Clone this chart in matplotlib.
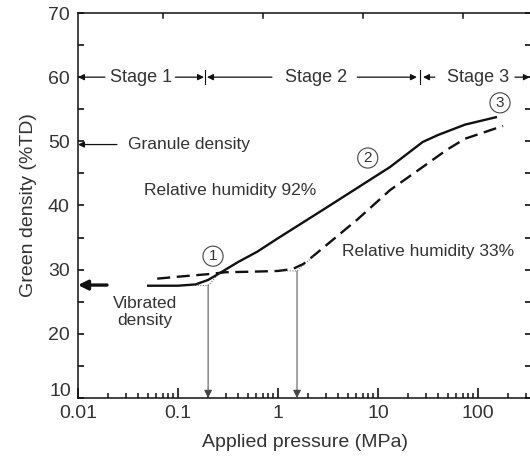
import matplotlib.pyplot as plt
from matplotlib.ticker import NullFormatter

# green density vs applied pressure
pressure_92 = [0.049, 0.1, 0.15, 0.2, 0.245, 0.4, 0.62, 1.0, 2.8, 13.2, 28, 40, 74, 155]
density_92 = [27.5, 27.5, 27.7, 28.4, 29.2, 31.2, 32.8, 34.9, 39.3, 46.0, 49.9, 51.0, 52.6, 53.8]

pressure_33 = [0.062, 0.1, 0.2, 0.3, 0.6, 1.0, 1.4, 1.8, 2.2, 3.5, 6.2, 13.2, 28, 49, 74, 178]
density_33 = [28.6, 28.9, 29.3, 29.6, 29.7, 29.8, 30.1, 30.9, 32.0, 34.6, 37.8, 42.4, 46.0, 48.7, 50.4, 52.4]

# tangent construction at the two knees (thin dotted)
tangent_1_x = [0.14, 0.2, 0.26]
tangent_1_y = [27.55, 27.55, 29.4]
tangent_2_x = [1.1, 1.55, 2.3]
tangent_2_y = [29.8, 29.8, 32.2]

knee_pressures = [0.2, 1.55]
knee_densities = [27.6, 29.8]
stage_bounds = [0.186, 26.3]

vibrated_density = 27.6
granule_density = 49.5

x_ticks = [0.01, 0.1, 1, 10, 100]
x_tick_labels = ["0.01", "0.1", "1", "10", "100"]
y_ticks = [10, 20, 30, 40, 50, 60, 70]
y_tick_labels = ["", "20", "30", "40", "50", "60", "70"]
y_minor = [15, 25, 35, 45, 55, 65]
top_ticks = [0.07, 0.7, 7, 70]

plt.rcParams["font.family"] = ["Liberation Sans", "DejaVu Sans"]
INK = "#111111"
TXT = "#333333"
X_MIN, X_MAX = 0.01, 10 ** (-2 + 4.53)
Y_MIN, Y_MAX = 10, 70

fig = plt.figure(figsize=(5.3, 4.62), dpi=100)
ax = fig.add_axes([78 / 530, 64 / 462, 453 / 530, 385 / 462])
ax.set_xscale("log")

ax.plot(pressure_92, density_92, color=INK, lw=1.7, solid_capstyle="butt")
ax.plot(pressure_33, density_33, color=INK, lw=1.7, linestyle=(0, (5.5, 2.8)))
ax.plot(tangent_1_x, tangent_1_y, color="#555555", lw=0.7, linestyle=":")
ax.plot(tangent_2_x, tangent_2_y, color="#555555", lw=0.7, linestyle=":")

arrow_thin = dict(arrowstyle="-|>", color=INK, lw=0.9, mutation_scale=9,
                  shrinkA=0, shrinkB=0)

# knee arrows down to the pressure axis
for p, d in zip(knee_pressures, knee_densities):
    ax.annotate("", xy=(p, Y_MIN), xytext=(p, d),
                arrowprops=dict(arrowstyle="-|>", color="#444444", lw=0.7,
                                mutation_scale=12, shrinkA=0, shrinkB=0))

# stage markers along y = 60
ys = 60
for b in stage_bounds:
    ax.plot([b, b], [58.9, 61.1], color=INK, lw=0.8)
ax.annotate("", xy=(0.01, ys), xytext=(0.0186, ys), arrowprops=arrow_thin)
ax.annotate("", xy=(0.182, ys), xytext=(0.094, ys), arrowprops=arrow_thin)
ax.annotate("", xy=(0.195, ys), xytext=(0.87, ys), arrowprops=arrow_thin)
ax.annotate("", xy=(24.5, ys), xytext=(6.2, ys), arrowprops=arrow_thin)
ax.annotate("", xy=(28.2, ys), xytext=(37, ys), arrowprops=arrow_thin)
ax.annotate("", xy=(330, ys), xytext=(234, ys), arrowprops=arrow_thin,
            annotation_clip=False)
ax.text(0.043, ys, "Stage 1", ha="center", va="center", fontsize=13, color=TXT)
ax.text(2.4, ys, "Stage 2", ha="center", va="center", fontsize=13, color=TXT)
ax.text(100, ys, "Stage 3", ha="center", va="center", fontsize=13, color=TXT)

# granule density
ax.annotate("", xy=(0.01, granule_density), xytext=(0.0245, granule_density),
            arrowprops=arrow_thin)
ax.text(0.0316, granule_density, "Granule density", ha="left", va="center",
        fontsize=12.5, color=TXT)

# vibrated density
ax.annotate("", xy=(0.01, vibrated_density), xytext=(0.0195, vibrated_density),
            arrowprops=dict(arrowstyle="-|>", color=INK, lw=2.4, mutation_scale=14,
                            shrinkA=0, shrinkB=0))
ax.text(0.047, 23.4, "Vibrated\ndensity", ha="center", va="center",
        fontsize=12.5, color=TXT, linespacing=1.15)

ax.text(0.33, 42.4, "Relative humidity 92%", ha="center", va="center",
        fontsize=12.5, color=TXT)
ax.text(4.4, 32.9, "Relative humidity 33%", ha="left", va="center",
        fontsize=12.5, color=TXT)

for label, (px, dy) in zip(["1", "2", "3"], [(0.224, 32.1), (7.9, 47.4), (166, 56.0)]):
    ax.text(px, dy, label, ha="center", va="center", fontsize=11, color=TXT,
            bbox=dict(boxstyle="circle,pad=0.2", fc="none", ec="#444444", lw=0.8))

# native inward ticks
minor_x = [m * 10.0 ** e for e in range(-2, 3) for m in range(2, 10)
           if m * 10.0 ** e < X_MAX]
ax.set_xticks(x_ticks, x_tick_labels)
ax.set_xticks(minor_x, minor=True)
ax.xaxis.set_minor_formatter(NullFormatter())
ax.set_yticks(y_ticks, y_tick_labels)
ax.set_yticks(y_minor, minor=True)
ax.set_xlim(X_MIN, X_MAX)
ax.set_ylim(Y_MIN, Y_MAX)
ax.tick_params(axis="x", which="major", direction="in", length=7, width=1.2,
               labelsize=14, pad=5, color=INK, labelcolor=TXT)
ax.tick_params(axis="x", which="minor", direction="in", length=3.5, width=1.1,
               color=INK)
ax.tick_params(axis="y", which="both", direction="in", length=4, width=1.2,
               labelsize=14, pad=6, right=True, color=INK, labelcolor=TXT)

# bottom "10" sits a little raised so it clears "0.01", as in the reference
ax.text(-0.016, 0.018, "10", transform=ax.transAxes, ha="right", va="center",
        fontsize=14, color=TXT)

# the top spine ticks sit a little left of the decades in the reference
for t in top_ticks:
    ax.plot([t, t], [Y_MAX, Y_MAX - 0.8], color=INK, lw=1.1)

for side in ["left", "bottom", "top", "right"]:
    ax.spines[side].set_linewidth(1.1)
    ax.spines[side].set_color(INK)

ax.set_xlabel("Applied pressure (MPa)", fontsize=14, color=TXT, labelpad=9)
ax.set_ylabel("Green density (%TD)", fontsize=14, color=TXT, labelpad=8)

fig.savefig("out.png", dpi=100)
